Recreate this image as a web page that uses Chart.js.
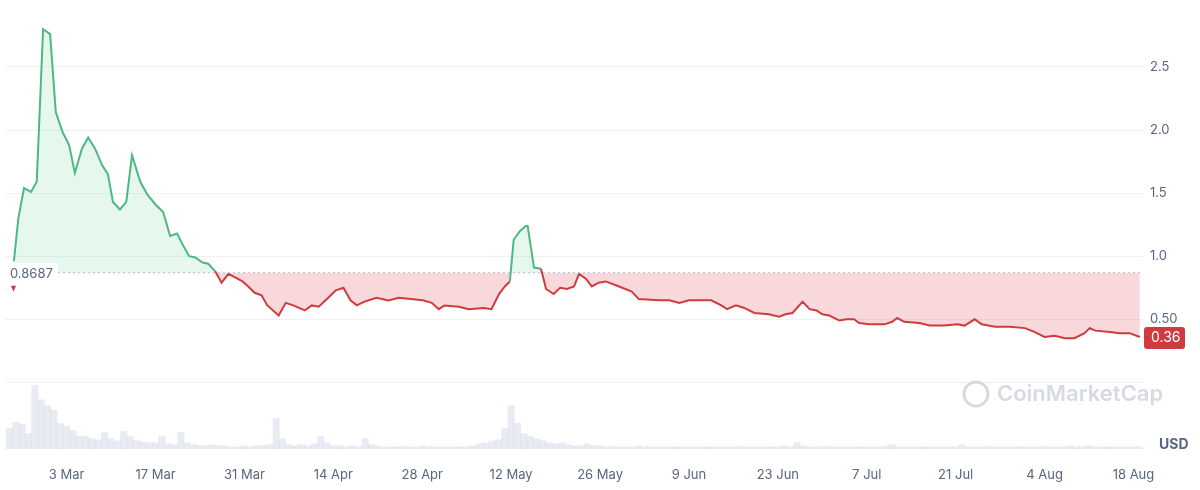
<!DOCTYPE html>
<html>
<head>
<meta charset="utf-8">
<script src="https://cdn.jsdelivr.net/npm/chart.js@4"></script>
<style>
  html, body { margin: 0; padding: 0; background: #fff; }
  #wrap { width: 1200px; height: 490px; }
</style>
</head>
<body>
<div id="wrap"><canvas id="chart" width="1200" height="490"></canvas></div>
<script>
// days are counted from 3 Mar (day 0)
const priceDays = [-8.3,-7.6,-6.7,-5.6,-4.7,-3.7,-2.6,-1.7,-0.6,0.4,1.3,2.4,3.4,4.5,5.6,6.5,7.3,8.4,9.4,10.3,11.6,12.7,14.0,15.2,16.3,17.4,18.4,19.3,20.3,21.4,22.3,23.4,24.4,25.5,26.6,27.7,28.6,29.6,30.7,31.6,33.4,34.5,35.7,37.5,38.6,39.7,41.2,42.4,43.6,44.7,45.7,46.9,48.8,50.7,52.3,54.2,56.1,57.5,58.6,59.5,61.8,63.3,65.7,66.9,68.1,69.0,69.8,70.4,71.4,72.3,72.6,73.6,74.7,75.5,76.7,77.7,78.8,79.9,80.7,81.8,82.7,83.8,84.9,87.0,89.0,90.1,93.3,94.9,96.5,98.0,100.4,101.5,103.1,104.0,105.4,106.7,108.3,110.6,112.2,113.2,114.3,115.9,117.0,118.1,119.0,120.1,121.7,122.8,124.0,124.8,126.4,128.8,130.0,130.8,131.9,134.3,135.9,138.2,140.3,141.4,143.0,144.1,146.2,148.5,150.9,152.4,154.0,155.6,157.2,158.7,160.3,161.1,162.0,164.3,165.8,167.4,169.0]
const prices = [0.96,1.30,1.54,1.51,1.59,2.80,2.76,2.14,1.98,1.88,1.66,1.85,1.94,1.85,1.72,1.65,1.43,1.37,1.43,1.80,1.59,1.49,1.41,1.35,1.16,1.18,1.08,1.00,0.99,0.95,0.94,0.88,0.79,0.86,0.83,0.80,0.76,0.71,0.69,0.61,0.53,0.63,0.61,0.57,0.61,0.60,0.67,0.73,0.75,0.65,0.61,0.64,0.67,0.65,0.67,0.66,0.65,0.63,0.58,0.61,0.60,0.58,0.59,0.58,0.70,0.76,0.80,1.13,1.20,1.24,1.24,0.91,0.90,0.74,0.70,0.75,0.74,0.76,0.86,0.82,0.76,0.79,0.80,0.76,0.72,0.66,0.65,0.65,0.63,0.65,0.65,0.65,0.61,0.58,0.61,0.59,0.55,0.54,0.52,0.54,0.55,0.64,0.58,0.57,0.54,0.53,0.49,0.50,0.50,0.47,0.46,0.46,0.48,0.51,0.48,0.47,0.45,0.45,0.46,0.45,0.50,0.46,0.44,0.44,0.43,0.40,0.36,0.37,0.35,0.35,0.39,0.43,0.41,0.40,0.39,0.39,0.36]
const volumes = [20,26,24,15,62,48,42,38,25,
  22,18,12,12,10,9,16,10,8,17, 12,8,7,6,6,12,5,4,16,6, 4,3,3,4,3,3,2,2,3,2,
  3,3,4,30,10,4,3,4,3,5, 12,6,3,3,2,3,2,10,4,3, 2,2,2,2,2,2,3,2,2,2,
  2,2,2,2,3,5,6,8,9,20, 42,25,15,12,10,8,6,5,6,4, 3,3,5,3,3,2,2,2,2,2,
  3,2,2,2,2,2,2,2,2,2, 2,2,2,2,2,2,2,2,2,2, 2,2,2,3,2,6,3,2,2,2,
  2,2,2,2,2,2,2,2,2,3, 4,2,2,2,2,2,2,2,2,2, 2,4,2,2,2,2,2,2,2,2,
  2,2,2,2,2,2,2,2,3,2, 2,3,2,2,2,2,2,2,2,2]
const volumeFirstDay = -9
const tickDays = [0,14,28,42,56,70,84,98,112,126,140,154,168]
const tickLabels = ["3 Mar","17 Mar","31 Mar","14 Apr","28 Apr","12 May","26 May","9 Jun","23 Jun","7 Jul","21 Jul","4 Aug","18 Aug"]
const priceTicks = [0, 0.5, 1.0, 1.5, 2.0, 2.5]
const basePrice = 0.8687
const lastPrice = "0.36"

const GREEN = "#4db882"
const RED = "#cf3b3f"
const FONT = "Inter, 'Noto Sans', sans-serif"

const extras = {
	id: "extras",
	beforeDatasetsDraw(chart) {
		const {ctx} = chart
		ctx.save()
		ctx.font = "600 22px " + FONT
		ctx.fillStyle = "#d6dbe3"
		ctx.textBaseline = "middle"
		ctx.fillText("CoinMarketCap", 997, 394)
		ctx.strokeStyle = "#d6dbe3"
		ctx.lineWidth = 3
		ctx.beginPath()
		ctx.arc(976, 394, 12, 0, Math.PI * 2)
		ctx.stroke()
		ctx.restore()
	},
	afterDatasetsDraw(chart) {
		const {ctx, chartArea, scales} = chart
		const yb = scales.y.getPixelForValue(basePrice)
		ctx.save()
		ctx.setLineDash([2, 3])
		ctx.strokeStyle = "#b5bcc6"
		ctx.lineWidth = 1
		ctx.beginPath()
		ctx.moveTo(58, yb)
		ctx.lineTo(chartArea.right, yb)
		ctx.stroke()
		ctx.setLineDash([])
		ctx.font = "13px " + FONT
		ctx.textBaseline = "middle"
		ctx.fillStyle = "#fff"
		ctx.fillRect(6, yb - 10, 52, 20)
		ctx.fillStyle = "#58667e"
		ctx.fillText(basePrice.toString(), 10, yb + 1)
		ctx.fillStyle = RED
		ctx.beginPath()
		ctx.moveTo(11, yb + 13)
		ctx.lineTo(16, yb + 13)
		ctx.lineTo(13.5, yb + 19)
		ctx.fill()
		// last price tag
		const yl = scales.y.getPixelForValue(parseFloat(lastPrice))
		ctx.beginPath()
		ctx.roundRect(chartArea.right + 1, yl - 10, 41, 22, 3)
		ctx.fill()
		ctx.fillStyle = "#fff"
		ctx.font = "14px " + FONT
		ctx.fillText(lastPrice, chartArea.right + 8, yl + 1)
		ctx.fillStyle = "#58667e"
		ctx.font = "bold 14px " + FONT
		ctx.fillText("USD", 1159, 445)
		ctx.restore()
	}
}

new Chart(document.getElementById("chart"), {
	data: {
		datasets: [
			{
				type: "line",
				data: priceDays.map((d, i) => ({x: d, y: prices[i]})),
				yAxisID: "y",
				borderWidth: 2,
				pointRadius: 0,
				tension: 0,
				borderColor: RED,
				segment: {
					borderColor: c => (c.p0.parsed.y + c.p1.parsed.y) / 2 >= basePrice ? GREEN : RED
				},
				fill: {target: {value: basePrice}, above: "rgba(60,190,120,0.13)", below: "rgba(220,60,70,0.2)"},
				order: 1
			},
			{
				type: "bar",
				data: volumes.map((v, i) => ({x: volumeFirstDay + i, y: v})),
				yAxisID: "vol",
				backgroundColor: "rgba(205,210,228,0.45)",
				barPercentage: 1,
				categoryPercentage: 1,
				order: 2
			}
		]
	},
	plugins: [extras],
	options: {
		responsive: false,
		animation: false,
		layout: {padding: {left: 5, top: 0, right: 0, bottom: 0}},
		plugins: {legend: {display: false}, tooltip: {enabled: false}},
		scales: {
			x: {
				type: "linear",
				offset: false,
				min: -9.7,
				max: 169.5,
				grid: {display: false},
				border: {display: false},
				afterBuildTicks: s => { s.ticks = tickDays.map(v => ({value: v})) },
				afterFit: s => { s.height = 41 },
				ticks: {
					color: "#58667e",
					font: {size: 13, family: FONT},
					maxRotation: 0,
					autoSkip: false,
					padding: 10,
					callback: (v) => tickLabels[tickDays.indexOf(v)]
				}
			},
			y: {
				position: "right",
				min: -0.528,
				max: 2.913,
				border: {display: false},
				grid: {color: "#eff2f5", drawTicks: false},
				afterBuildTicks: s => { s.ticks = priceTicks.map(v => ({value: v})) },
				afterFit: s => { s.width = 57 },
				ticks: {
					color: "#58667e",
					font: {size: 13, family: FONT},
					padding: 7,
					callback: v => v === 0 ? "" : (v === 0.5 ? "0.50" : v.toFixed(1))
				}
			},
			vol: {
				display: false,
				min: 0,
				max: 423
			}
		}
	}
})
</script>
</body>
</html>
